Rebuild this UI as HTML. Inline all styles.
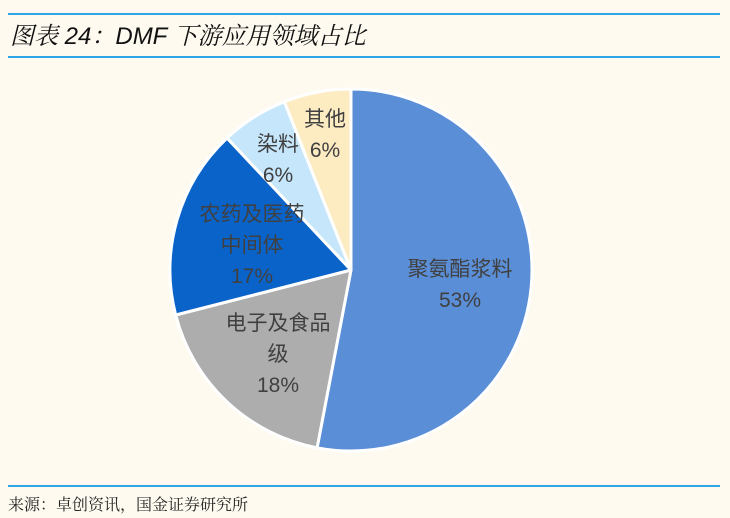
<!DOCTYPE html>
<html><head><meta charset="utf-8"><style>
body{margin:0;background:#FEFAF0;}
#wrap{position:relative;width:730px;height:518px;background:#FEFAF0;overflow:hidden;font-family:"Liberation Sans","Noto Sans CJK SC",sans-serif;}
.line{position:absolute;left:8px;width:712px;height:2px;background:#2EA6E6;}
#title{position:absolute;left:10px;top:16px;font-size:24px;font-style:italic;color:#111;font-family:"Liberation Sans","Noto Serif CJK SC",serif;}
#source{position:absolute;left:8px;top:492px;font-size:16px;color:#222;font-family:"Liberation Serif","Noto Serif CJK SC",serif;}
</style></head><body>
<div id="wrap">
<div class="line" style="top:13px"></div>
<div id="title">图表 24：DMF 下游应用领域占比</div>
<div class="line" style="top:56px"></div>
<svg id="pie" width="730" height="518" style="position:absolute;left:0;top:0"></svg>
<div class="line" style="top:485px"></div>
<div id="source">来源：卓创资讯，国金证券研究所</div>
</div>
<script>
const categories = ["聚氨酯浆料","电子及食品级","农药及医药中间体","染料","其他"];
const values = [53,18,17,6,6];
const labelLines = [["聚氨酯浆料"],["电子及食品","级"],["农药及医药","中间体"],["染料"],["其他"]];
const colors = ["#5A8ED6","#ADADAD","#0A63C9","#C6E6FB","#FDEBC2"];
const names = ["slice-polyurethane","slice-electronic-food","slice-pesticide-pharma","slice-dye","slice-other"];
const labelPos = [[460,268],[278,322],[252,213],[278,143],[325,118]];
const svg = document.getElementById('pie');
const NS = 'http://www.w3.org/2000/svg';
const cx = 351, cy = 270, r = 181;
const total = values.reduce((a,b)=>a+b,0);
function pt(a){return [cx + r*Math.sin(a), cy - r*Math.cos(a)];}
let a0 = 0;
values.forEach((v,i)=>{
  const a1 = a0 + v/total*2*Math.PI;
  const p0 = pt(a0), p1 = pt(a1);
  const large = (a1-a0) > Math.PI ? 1 : 0;
  const path = document.createElementNS(NS,'path');
  path.setAttribute('d',`M${cx},${cy} L${p0[0]},${p0[1]} A${r},${r} 0 ${large} 1 ${p1[0]},${p1[1]} Z`);
  path.setAttribute('fill',colors[i]);
  path.setAttribute('stroke','#FFFFFF');
  path.setAttribute('stroke-width','3');
  path.setAttribute('stroke-linejoin','round');
  
  
  svg.appendChild(path);
  a0 = a1;
});
values.forEach((v,i)=>{
  const lines = labelLines[i].concat([v+'%']);
  const [x,y] = labelPos[i];
  const g = document.createElementNS(NS,'text');
  
  
  g.setAttribute('x',x);
  g.setAttribute('text-anchor','middle');
  g.setAttribute('font-size','21');
  g.setAttribute('fill','#404040');
  g.setAttribute('font-family','"Liberation Sans","Noto Sans CJK SC",sans-serif');
  lines.forEach((t,j)=>{
    const ts = document.createElementNS(NS,'tspan');
    ts.setAttribute('x',x);
    ts.setAttribute('y',y + j*31 + 8);
    ts.textContent = t;
    g.appendChild(ts);
  });
  svg.appendChild(g);
});
</script>
</body></html>
